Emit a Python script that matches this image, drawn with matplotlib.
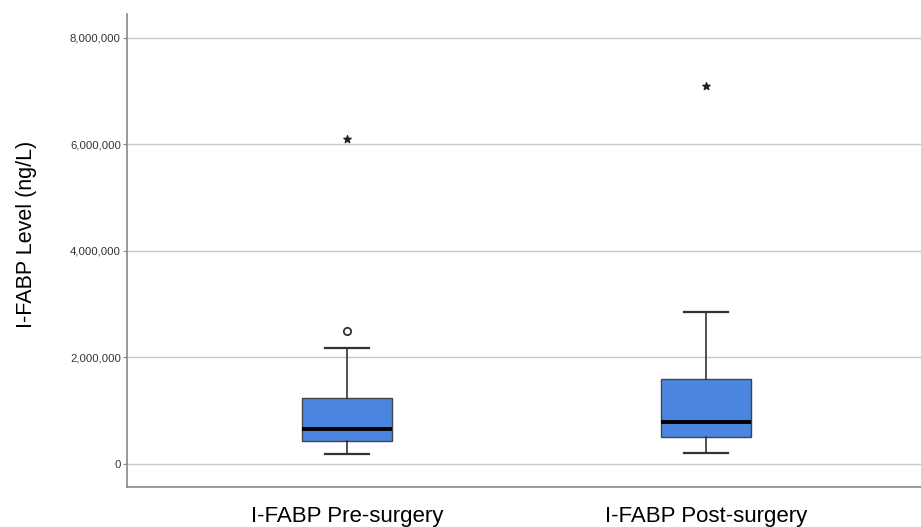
import matplotlib
matplotlib.use("Agg")
import matplotlib.pyplot as plt
from matplotlib.ticker import FuncFormatter

categories = ["I-FABP Pre-surgery", "I-FABP Post-surgery"]
whislo = [188000, 207000]
q1 = [432000, 507000]
med = [657000, 789000]
q3 = [1240000, 1596000]
whishi = [2180000, 2850000]
outliers_circle = [[2500000], []]
outliers_star = [[6100000], [7100000]]
yticks = [0, 2000000, 4000000, 6000000, 8000000]

plt.rcParams['font.family'] = ['Liberation Sans', 'DejaVu Sans']

fig = plt.figure(figsize=(9.21, 5.27), dpi=100)
ax = fig.add_axes([127/921, 1-487/527, 794/921, (487-14)/527])

stats = []
for i, c in enumerate(categories):
    stats.append(dict(label=c, whislo=whislo[i], q1=q1[i], med=med[i],
                      q3=q3[i], whishi=whishi[i], fliers=[]))
positions = [1, 2]
ax.bxp(stats, positions=positions, widths=0.25, patch_artist=True,
       showfliers=False,
       boxprops=dict(facecolor='#4A86E0', edgecolor='#444444', linewidth=1.0),
       medianprops=dict(color='black', linewidth=2.8),
       whiskerprops=dict(color='#333333', linewidth=1.2),
       capprops=dict(color='#333333', linewidth=1.6),
       capwidths=0.125, zorder=3)

for i, p in enumerate(positions):
    for v in outliers_circle[i]:
        ax.scatter([p], [v], marker='o', s=28, facecolors='white',
                   edgecolors='#333333', linewidths=1.3, zorder=4)
    for v in outliers_star[i]:
        ax.scatter([p], [v], marker='*', s=30, color='#222222', zorder=4)

ax.set_xlim(0.387, 2.599)
ax.set_ylim(-432000, 8450000)
ax.set_yticks(yticks)
ax.yaxis.set_major_formatter(FuncFormatter(lambda v, _: f"{int(v):,}"))
ax.grid(axis='y', color='#c8c8c8', linewidth=1.0, zorder=0)
ax.set_axisbelow(True)
ax.tick_params(axis='y', labelsize=8.2, length=3, color='#888888', labelcolor='#333333', pad=1.5)
ax.tick_params(axis='x', length=0, labelsize=16, pad=14, labelcolor='black')
ax.set_xticks(positions)
ax.set_xticklabels(categories)
ax.set_ylabel("I-FABP Level (ng/L)", fontsize=15.5)
ax.yaxis.set_label_coords(-0.113, 0.535)

for s in ['top', 'right']:
    ax.spines[s].set_visible(False)
for s in ['left', 'bottom']:
    ax.spines[s].set_color('#888888')
    ax.spines[s].set_linewidth(1.2)

fig.savefig("out.png", dpi=100)
